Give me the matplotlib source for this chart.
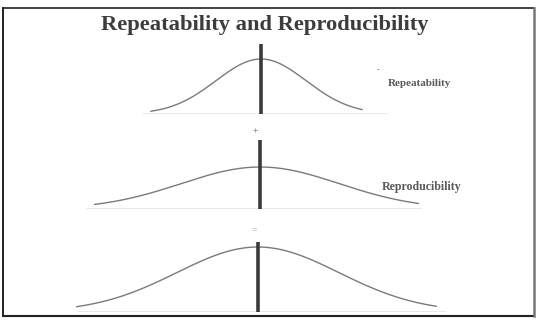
import numpy as np
import matplotlib
matplotlib.use("Agg")
import matplotlib.pyplot as plt
from matplotlib.lines import Line2D

# ---- data (diagram values) ----
title = "Repeatability and Reproducibility"
panel_labels = ["Repeatability", "Reproducibility", ""]
panel_marks = ["-", "+", "="]
centers = [0.0, -0.02, -0.07]          # curve centre (units)
sigmas = [1.0, 1.75, 1.8]               # spread of each bell curve
peaks = [55, 42, 65]                    # peak height above baseline
curve_lo = [-2.45, -3.7, -4.1]          # curve drawn range
curve_hi = [2.25, 3.5, 3.9]
base_lo = [-2.64, -3.9, -4.1]           # baseline range
base_hi = [2.8, 3.55, 4.1]
vline_tops = [70, 69, 70]               # height of the reference bar
baselines_px = [114, 209, 312]          # vertical position of each panel

W, H = 540, 320
fig = plt.figure(figsize=(W / 100, H / 100), dpi=100)
fig.patch.set_facecolor("white")

unit_px = 45.0
xc_px = 261.0
xlim = (-xc_px / unit_px, (W - xc_px) / unit_px)

serif = ["Liberation Serif", "DejaVu Serif"]

for i in range(3):
    ax_h = 95
    ax = fig.add_axes([0, (H - baselines_px[i]) / H, 1, ax_h / H])
    ax.set_xlim(*xlim)
    ax.set_ylim(0, ax_h)
    ax.axis("off")
    x = np.linspace(curve_lo[i], curve_hi[i], 400)
    y = peaks[i] * np.exp(-0.5 * ((x - centers[i]) / sigmas[i]) ** 2)
    ax.plot(x, y, color="#7a7a7a", lw=1.0, solid_capstyle="round")
    ax.hlines(0, base_lo[i], base_hi[i], color="#8a8a8a", lw=1.0)
    ax.vlines(centers[i], 0, vline_tops[i], color="#3a3a3a", lw=2.6)
    if panel_labels[i]:
        ax.text(2.82 if i == 0 else 2.68, [30, 22, 0][i], panel_labels[i],
                fontsize=[8.0, 8.6, 8][i], fontweight="bold", family=serif,
                color="#5a5a5a", ha="left", va="center")
    mx = [2.6, centers[1] - 0.1, centers[2] - 0.08][i]
    my = [44, 77, 82][i]
    ax.text(mx, my, panel_marks[i], fontsize=6 if i == 0 else 7,
            color="#666666" if i < 2 else "#aaaaaa",
            ha="center", va="center", family=serif)

fig.text(265 / W, 1 - 25 / H, title, fontsize=16.2, fontweight="bold",
         family=serif, color="#3c3c3c", ha="center", va="center")

# frame around the figure
fig.add_artist(Line2D([3 / W, 3 / W], [1 - 8 / H, 1 - 315.5 / H], color="#111111", lw=1.3, transform=fig.transFigure))
fig.add_artist(Line2D([2.5 / W, 534 / W], [1 - 8 / H, 1 - 8 / H], color="#222222", lw=1.2, transform=fig.transFigure))
fig.add_artist(Line2D([2.5 / W, 534 / W], [1 - 315.5 / H, 1 - 315.5 / H], color="#222222", lw=1.5, transform=fig.transFigure))
fig.add_artist(Line2D([533.5 / W, 533.5 / W], [1 - 8 / H, 1 - 316 / H], color="#777777", lw=1.8, transform=fig.transFigure))

fig.savefig("out.png", dpi=100, facecolor="white")
